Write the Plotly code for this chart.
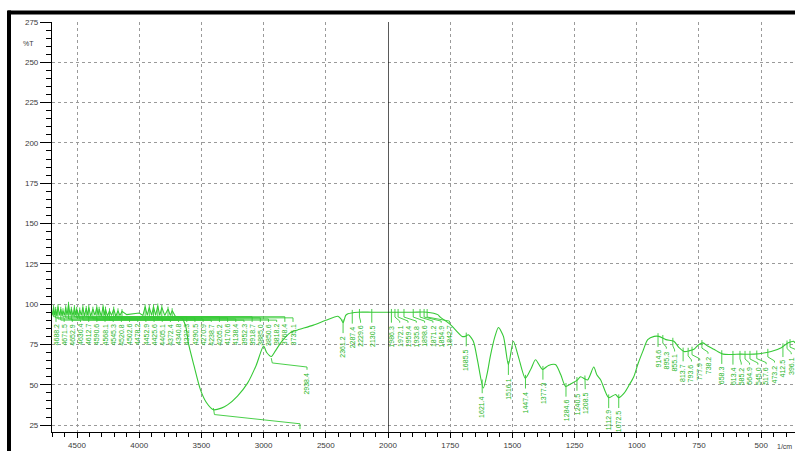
import numpy as np
import plotly.graph_objects as go

# ---------------- data ----------------
SPEC_WN = [4700, 4688, 4680, 4671, 4662, 4653, 4640, 4630, 4620, 4613, 4600, 4591, 4580,
           4568, 4556, 4545, 4532, 4521, 4510, 4503, 4490, 4478, 4465, 4453, 4440, 4426,
           4415, 4405, 4390, 4372, 4356, 4341, 4330, 4322, 4305, 4290, 4280, 4271, 4255,
           4239, 4222, 4205, 4188, 4171, 4155, 4138, 4100, 4050, 4000, 3970, 3952, 3935,
           3919, 3900, 3885, 3868, 3851, 3835, 3818, 3795, 3768, 3750, 3735, 3710, 3680,
           3650, 3625, 3605, 3560, 3508, 3460, 3403, 3340, 3290, 3210, 3129, 3060, 3000,
           2975, 2938, 2905, 2863, 2782, 2726, 2600, 2500, 2403, 2380, 2361, 2340, 2322,
           2242, 2130, 2000, 1900, 1843, 1800, 1790, 1750, 1702, 1690, 1677, 1657, 1640,
           1617, 1600, 1589, 1570, 1556, 1536, 1516, 1496, 1476, 1448, 1425, 1407, 1379,
           1355, 1327, 1305, 1286, 1260, 1238, 1226, 1198, 1173, 1160, 1145, 1113, 1085,
           1073, 1050, 1030, 1012, 995, 975, 956, 930, 911, 883, 851, 830, 810, 790, 770,
           750, 734, 715, 690, 653, 581, 528, 460, 419, 391, 370, 364]
SPEC_T = [93, 98, 93, 97, 92.5, 98.5, 93, 97, 92.5, 96, 93, 98, 93,
          100, 93, 97, 92.5, 98, 93, 97, 92.5, 96.5, 93, 98, 92.5, 97.5,
          93, 98, 92.5, 97, 93, 98, 93, 97, 92.5, 98.5, 93, 97, 92.5,
          96, 93, 97, 92.5, 96, 93, 95.5, 93.5, 94, 94.5, 93, 98.5, 93,
          98, 93, 98.5, 93, 99, 93, 98, 93, 97, 93, 96, 92.5, 92,
          91, 86, 76, 62, 47, 39, 34.5, 35.5, 37.5, 43, 51, 62, 74,
          70, 67.5, 71, 76, 82.5, 84, 87, 90, 92.5, 91, 88.5, 93, 94,
          95, 95, 95, 95, 95, 93.5, 92, 87.5, 80, 80, 81, 77, 65,
          48, 58, 67.5, 80, 85.5, 80, 62.5, 77, 67.5, 54, 60, 65.5, 59.5,
          62, 62.5, 56, 49, 51, 53, 55, 53, 61, 56, 53, 42, 44,
          42, 45, 50, 55, 63, 71, 78, 80, 80, 78, 77, 73, 70.6, 71, 72,
          75, 76, 74, 72, 69, 69, 69, 70.6, 73, 76, 77, 76]

LEFT_PEAKS = [4688.2, 4671.5, 4652.9, 4630.4, 4612.7, 4590.6, 4568.1, 4545.3, 4520.8,
              4502.6, 4478.2, 4452.9, 4425.6, 4405.1, 4372.4, 4340.8, 4322.3, 4290.5,
              4270.9, 4238.7, 4205.2, 4170.6, 4138.4, 3952.3, 3918.7, 3885.0, 3850.6,
              3818.2, 3768.4, 3735.1]
RIGHT_PEAKS = [2361.2, 2287.4, 2229.6, 2130.5, 1986.3, 1972.1, 1959.4, 1935.8, 1898.6,
               1871.2, 1854.9, 1842.7,
               1685.5, 1621.4, 1516.1, 1447.4, 1377.3, 1284.6, 1240.5, 1208.5, 1112.9,
               1072.5,
               914.6, 895.3, 855.1, 813.7, 793.6, 777.9, 738.2, 658.3, 613.4, 585.2,
               564.9, 545.0, 517.6, 473.2, 412.5, 396.1, 384.0]
TROUGH_PEAKS = [3403.3, 2938.4]

Y_TICKS = [25, 50, 75, 100, 125, 150, 175, 200, 225, 250, 275]
X_TICKS_LEFT = [4500, 4000, 3500, 3000, 2500, 2000]
X_TICKS_RIGHT = [1750, 1500, 1250, 1000, 750, 500]
Y_LABEL = "%T"
X_UNIT = "1/cm"

# ---------------- layout geometry ----------------
W, H = 795, 451
ML, MR, MT, MB = 52, 0, 22, 19
PW, PH = W - ML - MR, H - MT - MB
SPLIT = 2000
SPLIT_PX = 388
NOISE_END = 3650
LEFT_RANGE = [4701, SPLIT]
RIGHT_RANGE = [SPLIT, 364]
Y_RANGE = [20.7, 275]
DOM = (SPLIT_PX - ML) / PW

GREEN = "#36c936"
LABEL_GREEN = "#25b525"
FONT = "Liberation Sans"

wn_arr = np.array(SPEC_WN, dtype=float)
t_arr = np.array(SPEC_T, dtype=float)


def t_at(wn):
    return float(np.interp(wn, wn_arr[::-1], t_arr[::-1]))


def wn_to_px(wn):
    if wn >= SPLIT:
        a, b = LEFT_RANGE
        return ML + (a - wn) / (a - b) * (SPLIT_PX - ML)
    a, b = RIGHT_RANGE
    return SPLIT_PX + (a - wn) / (a - b) * (W - MR - SPLIT_PX)


def px_to_wn(px, left):
    if left:
        a, b = LEFT_RANGE
        return a - (px - ML) / (SPLIT_PX - ML) * (a - b)
    a, b = RIGHT_RANGE
    return a - (px - SPLIT_PX) / (W - MR - SPLIT_PX) * (a - b)


fig = go.Figure()

# spectrum split over the two wavenumber scales
m_noise = wn_arr >= NOISE_END
m_mid = (wn_arr <= NOISE_END) & (wn_arr >= SPLIT)
m_right = wn_arr <= SPLIT
fig.add_trace(go.Scatter(x=wn_arr[m_noise], y=t_arr[m_noise], mode="lines", xaxis="x",
                         yaxis="y", line=dict(color=GREEN, width=1.1),
                         hoverinfo="skip", showlegend=False))
fig.add_trace(go.Scatter(x=wn_arr[m_mid], y=t_arr[m_mid], mode="lines", xaxis="x",
                         yaxis="y", line=dict(color=GREEN, width=1.1, shape="spline",
                                              smoothing=0.7),
                         hoverinfo="skip", showlegend=False))
fig.add_trace(go.Scatter(x=wn_arr[m_right], y=t_arr[m_right], mode="lines", xaxis="x2",
                         yaxis="y", line=dict(color=GREEN, width=1.1, shape="spline",
                                              smoothing=0.7),
                         hoverinfo="skip", showlegend=False))

leadL_x, leadL_y, leadR_x, leadR_y = [], [], [], []
annotations = []


def label(wn_text, x, y, ref):
    annotations.append(dict(x=x, y=y, xref=ref, yref="y", text=f"{wn_text:.1f}",
                            textangle=-90, showarrow=False, xanchor="center", yanchor="top",
                            font=dict(family=FONT, size=7, color=LABEL_GREEN)))


# left peaks: labels in one row, spread evenly
n = len(LEFT_PEAKS)
lab_px = np.linspace(56, 293, n)
LABEL_TOP = 89.3
for i, (p, lp) in enumerate(zip(LEFT_PEAKS, lab_px)):
    tp = t_at(p)
    lw = px_to_wn(lp, True)
    lvl = 92.2 - (i % 4) * 0.7
    leadL_x += [p, p, lw, lw, None]
    leadL_y += [tp + 1.5, lvl, lvl, LABEL_TOP - 0.3, None]
    label(p, lw, LABEL_TOP, "x")

# right peaks: labels under their peaks, pushed apart where crowded
prev = -1e9
for p in RIGHT_PEAKS:
    tp = t_at(p)
    ppx = wn_to_px(p)
    lpx = max(ppx, prev + 8.3)
    prev = lpx
    left = p >= SPLIT
    lw = px_to_wn(lpx, left)
    xs = [p, p, lw, lw, None]
    ys = [tp + 2, tp - 3, tp - 5.5, tp - 6.5, None]
    if left:
        leadL_x += xs; leadL_y += ys
    else:
        leadR_x += xs; leadR_y += ys
    label(p, lw, tp - 6.8, "x" if left else "x2")

# troughs whose labels were routed aside
p0 = TROUGH_PEAKS[0]
t0 = t_at(p0)
w_end = px_to_wn(300, True)
leadL_x += [p0, p0 - 8, w_end, w_end, None]
leadL_y += [t0 + 1, t0 - 3, 25.8, 22.5, None]
p1 = TROUGH_PEAKS[1]
t1 = t_at(p1)
w_lab = px_to_wn(307, True)
leadL_x += [p1, p1 - 8, w_lab, w_lab, None]
leadL_y += [t1 - 1, t1 - 4, 61, 59.3, None]
label(p1, w_lab, 58.8, "x")

fig.add_trace(go.Scatter(x=leadL_x, y=leadL_y, mode="lines", xaxis="x", yaxis="y",
                         line=dict(color=GREEN, width=0.9), hoverinfo="skip", showlegend=False))
fig.add_trace(go.Scatter(x=leadR_x, y=leadR_y, mode="lines", xaxis="x2", yaxis="y",
                         line=dict(color=GREEN, width=0.9), hoverinfo="skip", showlegend=False))

tickfont = dict(family=FONT, size=8, color="#3a3a3a")
common_x = dict(showline=True, linecolor="black", linewidth=1.2, ticks="outside",
                ticklen=5, tickcolor="black", tickwidth=1, showgrid=True,
                gridcolor="#9a9a9a", griddash="dot", gridwidth=1, zeroline=False,
                tickfont=tickfont, fixedrange=True, tickmode="array")

fig.update_layout(
    width=W, height=H,
    margin=dict(l=ML, r=MR, t=MT, b=MB, pad=0, autoexpand=False),
    paper_bgcolor="white", plot_bgcolor="white",
    showlegend=False,
    xaxis=dict(domain=[0, DOM], range=LEFT_RANGE, anchor="y",
               tickvals=X_TICKS_LEFT, ticktext=[str(v) for v in X_TICKS_LEFT],
               minor=dict(dtick=100, tick0=0, ticklen=4, ticks="outside",
                          tickcolor="black", showgrid=False),
               **common_x),
    xaxis2=dict(domain=[DOM, 1], range=RIGHT_RANGE, anchor="y",
                tickvals=X_TICKS_RIGHT, ticktext=[str(v) for v in X_TICKS_RIGHT],
                minor=dict(dtick=50, tick0=0, ticklen=4, ticks="outside",
                           tickcolor="black", showgrid=False),
                **common_x),
    yaxis=dict(domain=[0, 1], range=Y_RANGE, anchor="x", showline=True,
               linecolor="black", linewidth=1.2, ticks="outside", ticklen=11,
               tickcolor="black", tickmode="array", tickvals=Y_TICKS,
               ticktext=[str(v) for v in Y_TICKS],
               minor=dict(dtick=5, tick0=0, ticklen=5, ticks="outside",
                          tickcolor="black", showgrid=False),
               showgrid=True, gridcolor="#9a9a9a", griddash="dot", gridwidth=1,
               zeroline=False, tickfont=tickfont, fixedrange=True),
    annotations=annotations + [
        dict(x=(28 - ML) / PW, y=261.8, xref="paper", yref="y", text=Y_LABEL,
             showarrow=False, font=dict(family=FONT, size=7, color="#3a3a3a"),
             xanchor="center", yanchor="middle"),
        dict(x=(794 - ML) / PW, y=-(446 - (H - MB)) / PH, xref="paper", yref="paper",
             text=X_UNIT, showarrow=False, font=dict(family=FONT, size=7, color="#3a3a3a"),
             xanchor="right", yanchor="middle"),
    ],
    shapes=[
        dict(type="line", xref="x2", yref="paper", x0=SPLIT, x1=SPLIT, y0=0, y1=1,
             line=dict(color="black", width=1.3), layer="above"),
        dict(type="line", xref="paper", yref="paper", x0=(8 - ML) / PW, x1=1.01,
             y0=((H - MB) - 12.5) / PH, y1=((H - MB) - 12.5) / PH,
             line=dict(color="black", width=4)),
        dict(type="line", xref="paper", yref="paper", x0=(9 - ML) / PW, x1=(9 - ML) / PW,
             y0=((H - MB) - 10.5) / PH, y1=-0.1,
             line=dict(color="black", width=4)),
    ],
)

fig.write_html("out.html",
               config={"displayModeBar": False},
               post_script="document.body.style.margin='0px';"
                           "document.body.style.overflow='hidden';")
